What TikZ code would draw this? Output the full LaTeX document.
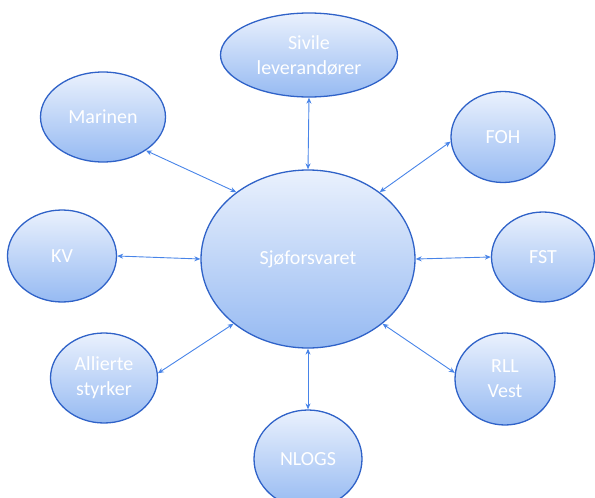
\documentclass[tikz,border=0pt]{standalone}
\usepackage{fontspec}
\setmainfont{Carlito}
\usetikzlibrary{shapes.geometric,arrows.meta}
\definecolor{edgeblue}{RGB}{47,98,200}
\definecolor{arrowblue}{RGB}{72,132,232}
\definecolor{topfill}{RGB}{234,241,253}
\definecolor{botfill}{RGB}{150,186,242}
\tikzset{
  bubble/.style={ellipse, draw=edgeblue, line width=1.3pt, top color=topfill, bottom color=botfill,
    inner sep=0pt, text=white, align=center, font=\fontsize{20}{25}\selectfont},
  link/.style={draw=arrowblue, line width=0.9pt, {Stealth[length=6pt,width=5pt]}-{Stealth[length=6pt,width=5pt]}}
}
\begin{document}
\begin{tikzpicture}[x=1pt,y=-1pt]
\useasboundingbox (0,0) rectangle (595,498);
\begin{scope}
\clip (0,0) rectangle (595,498);
\node[bubble, minimum width=214pt, minimum height=178pt] (c) at (308,259) {Sjøforsvaret};
\node[bubble, minimum width=177pt, minimum height=84pt] (siv) at (309,55) {Sivile\\leverandører};
\node[bubble, minimum width=125pt, minimum height=90pt] (mar) at (103,117) {Marinen};
\node[bubble, minimum width=104pt, minimum height=91pt] (foh) at (503,137) {FOH};
\node[bubble, minimum width=109pt, minimum height=92pt] (kv) at (62,256) {KV};
\node[bubble, minimum width=103pt, minimum height=90pt] (fst) at (543,257) {FST};
\node[bubble, minimum width=107pt, minimum height=90pt] (all) at (104,378) {Allierte\\styrker};
\node[bubble, minimum width=100pt, minimum height=92pt] (rll) at (505,379) {RLL\\Vest};
\node[bubble, minimum width=108pt, minimum height=98pt] (nlo) at (308,459) {NLOGS};
\draw[link] (c.90) -- (siv.270);
\draw[link] (c.137) -- (mar.322);
\draw[link] (c.43) -- (foh.185);
\draw[link] (c.180) -- (kv.0);
\draw[link] (c.0) -- (fst.180);
\draw[link] (c.221) -- (all.5);
\draw[link] (c.319) -- (rll.173);
\draw[link] (c.270) -- (nlo.90);
\end{scope}
\end{tikzpicture}
\end{document}
